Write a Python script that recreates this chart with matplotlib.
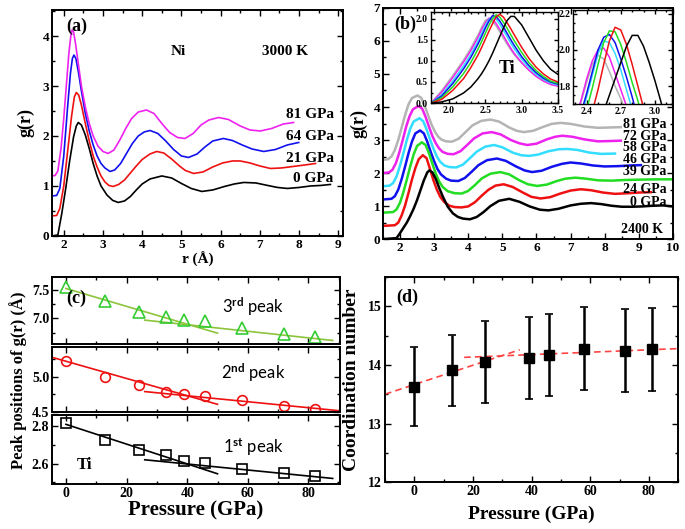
import matplotlib
matplotlib.use('Agg')
import matplotlib.pyplot as plt
from matplotlib.ticker import MultipleLocator

plt.rcParams['font.family'] = ['Liberation Serif', 'DejaVu Serif']
plt.rcParams['font.weight'] = 'bold'
plt.rcParams['axes.labelweight'] = 'bold'
plt.rcParams['mathtext.fontset'] = 'custom'
plt.rcParams['mathtext.rm'] = 'Lato'
plt.rcParams['mathtext.it'] = 'Lato:italic'
plt.rcParams['mathtext.bf'] = 'Lato:bold'

# ---------------- data ----------------
# (a) Ni, 3000 K, g(r) curves (already shifted as drawn)
ni_labels = ['0 GPa', '21 GPa', '64 GPa', '81 GPa']
ni_colors = ['black', '#ee1111', '#1111ee', '#ee22ee']
ni_r_0 = [1.7, 1.85, 1.95, 2.05, 2.15, 2.25, 2.32, 2.37, 2.45, 2.55, 2.65, 2.75, 2.85, 2.95, 3.1, 3.25,
          3.39, 3.55, 3.7, 3.85, 4.0, 4.2, 4.5, 4.75, 5.0, 5.25, 5.52, 5.8, 6.1, 6.35, 6.59, 6.9, 7.2,
          7.45, 7.7, 8.0, 8.3, 8.55, 8.8]
ni_g_0 = [0, 0.02, 0.45, 0.95, 1.5, 1.98, 2.2, 2.27, 2.22, 2.02, 1.75, 1.45, 1.2, 1.0, 0.82, 0.71,
          0.67, 0.7, 0.79, 0.92, 1.04, 1.14, 1.2, 1.16, 1.05, 0.95, 0.89, 0.92, 0.99, 1.04, 1.07, 1.06, 1.01,
          0.97, 0.95, 0.97, 1.0, 1.01, 1.03]
ni_r_21 = [1.7, 1.82, 1.9, 2.0, 2.1, 2.2, 2.27, 2.32, 2.38, 2.45, 2.55, 2.65, 2.75, 2.85, 2.95, 3.05,
           3.15, 3.26, 3.4, 3.55, 3.7, 3.85, 4.0, 4.2, 4.37, 4.55, 4.75, 4.95, 5.1, 5.31, 5.55, 5.8,
           6.05, 6.3, 6.5, 6.75, 7.0, 7.27, 7.55, 7.85, 8.15, 8.42]
ni_g_21 = [0.4, 0.41, 0.55, 1.0, 1.7, 2.4, 2.78, 2.87, 2.82, 2.62, 2.25, 1.9, 1.6, 1.38, 1.2, 1.08,
           1.01, 0.99, 1.03, 1.12, 1.26, 1.4, 1.53, 1.64, 1.69, 1.66, 1.54, 1.4, 1.31, 1.25, 1.28, 1.38,
           1.46, 1.5, 1.5, 1.46, 1.4, 1.35, 1.36, 1.39, 1.42, 1.45]
ni_r_64 = [1.7, 1.82, 1.9, 2.0, 2.1, 2.17, 2.22, 2.26, 2.31, 2.38, 2.45, 2.55, 2.65, 2.75, 2.85, 2.95,
           3.05, 3.18, 3.3, 3.45, 3.6, 3.75, 3.9, 4.05, 4.2, 4.4, 4.6, 4.8, 5.0, 5.18, 5.4, 5.6, 5.8,
           6.07, 6.3, 6.55, 6.8, 7.1, 7.4, 7.7, 7.99]
ni_g_64 = [0.8, 0.81, 0.95, 1.6, 2.6, 3.25, 3.55, 3.62, 3.55, 3.25, 2.9, 2.45, 2.1, 1.82, 1.6, 1.45,
           1.36, 1.29, 1.32, 1.45, 1.65, 1.85, 2.0, 2.08, 2.11, 2.05, 1.9, 1.73, 1.6, 1.57, 1.64, 1.78, 1.9,
           1.95, 1.91, 1.82, 1.74, 1.69, 1.73, 1.82, 1.87]
ni_r_81 = [1.7, 1.78, 1.85, 1.93, 2.0, 2.07, 2.13, 2.18, 2.21, 2.25, 2.3, 2.37, 2.45, 2.55, 2.65, 2.75,
           2.87, 3.0, 3.13, 3.28, 3.43, 3.58, 3.73, 3.9, 4.11, 4.3, 4.5, 4.7, 4.9, 5.09, 5.3, 5.5, 5.7,
           5.95, 6.2, 6.5, 6.75, 7.01, 7.3, 7.6, 7.86]
ni_g_81 = [1.2, 1.21, 1.3, 1.75, 2.35, 3.05, 3.65, 4.0, 4.12, 4.08, 3.85, 3.45, 3.0, 2.58, 2.25, 2.0,
           1.8, 1.69, 1.65, 1.72, 1.92, 2.15, 2.35, 2.48, 2.52, 2.45, 2.25, 2.07, 1.97, 1.95, 2.05, 2.22, 2.32,
           2.37, 2.33, 2.2, 2.12, 2.1, 2.15, 2.24, 2.27]
ni_label_y = [1.15, 1.55, 1.99, 2.42]

# (b) Ti, 2400 K
ti_labels = ['0 GPa', '24 GPa', '39 GPa', '46 GPa', '58 GPa', '72 GPa', '81 GPa']
ti_colors = ['black', '#ee1111', '#22dd22', '#1111ee', '#33ddff', '#ee22ee', '#b4b4b4']
ti_r_0 = [1.5, 1.9, 2.0, 2.1, 2.2, 2.3, 2.4, 2.5, 2.6, 2.7, 2.8, 2.86, 2.95, 3.05, 3.15, 3.25, 3.4, 3.55,
          3.7, 3.85, 4.05, 4.25, 4.45, 4.65, 4.9, 5.2, 5.5, 5.8, 6.1, 6.35, 6.65, 7.0, 7.3, 7.6, 7.9, 8.2,
          8.5, 8.8, 9.1, 9.4, 9.7, 10.0]
ti_g_0 = [0, 0.03, 0.18, 0.34, 0.5, 0.7, 0.92, 1.18, 1.48, 1.78, 2.02, 2.08, 2.02, 1.82, 1.55, 1.3, 0.98, 0.78,
          0.67, 0.62, 0.6, 0.67, 0.82, 1.0, 1.16, 1.22, 1.13, 0.99, 0.89, 0.87, 0.92, 1.02, 1.07, 1.09, 1.06, 1.01,
          0.98, 0.98, 0.99, 1.01, 1.02, 0.99]
ti_r_24 = [1.5, 1.85, 1.95, 2.05, 2.15, 2.25, 2.35, 2.45, 2.55, 2.67, 2.78, 2.88, 2.98, 3.08, 3.18, 3.3,
           3.45, 3.6, 3.8, 4.0, 4.2, 4.4, 4.6, 4.8, 5.04, 5.3, 5.6, 5.85, 6.12, 6.4, 6.7, 7.0, 7.3, 7.6,
           7.95, 8.3, 8.7, 9.0, 9.35]
ti_g_24 = [0.4, 0.42, 0.5, 0.72, 1.02, 1.4, 1.8, 2.15, 2.42, 2.54, 2.45, 2.12, 1.78, 1.5, 1.28, 1.12,
           1.01, 0.97, 0.96, 0.99, 1.12, 1.32, 1.5, 1.62, 1.66, 1.58, 1.41, 1.28, 1.23, 1.27, 1.38, 1.47, 1.51, 1.48,
           1.41, 1.37, 1.39, 1.41, 1.42]
ti_r_39 = [1.5, 1.8, 1.9, 2.0, 2.1, 2.2, 2.3, 2.4, 2.5, 2.64, 2.75, 2.85, 2.95, 3.05, 3.15, 3.25, 3.4,
           3.6, 3.81, 4.0, 4.2, 4.4, 4.65, 4.94, 5.2, 5.5, 5.75, 6.02, 6.3, 6.6, 6.85, 7.14, 7.45, 7.8,
           8.2, 8.6, 9.0, 9.5, 10.0]
ti_g_39 = [0.8, 0.82, 0.9, 1.1, 1.42, 1.8, 2.2, 2.56, 2.82, 2.93, 2.85, 2.6, 2.28, 1.98, 1.74, 1.58, 1.45,
           1.39, 1.38, 1.46, 1.64, 1.84, 1.98, 2.03, 1.96, 1.78, 1.66, 1.61, 1.65, 1.76, 1.83, 1.86, 1.83, 1.78,
           1.77, 1.79, 1.8, 1.81, 1.81]
ti_r_46 = [1.5, 1.75, 1.85, 1.95, 2.05, 2.15, 2.25, 2.35, 2.45, 2.59, 2.7, 2.8, 2.9, 3.0, 3.1, 3.2, 3.35,
           3.5, 3.71, 3.9, 4.1, 4.3, 4.55, 4.84, 5.1, 5.4, 5.65, 5.87, 6.15, 6.45, 6.75, 7.0, 7.3, 7.65,
           8.0, 8.4, 8.75, 9.06]
ti_g_46 = [1.2, 1.22, 1.3, 1.5, 1.82, 2.2, 2.6, 2.95, 3.2, 3.29, 3.2, 2.95, 2.64, 2.36, 2.12, 1.96, 1.83,
           1.77, 1.76, 1.85, 2.04, 2.24, 2.39, 2.44, 2.37, 2.2, 2.08, 2.03, 2.07, 2.19, 2.28, 2.32, 2.29, 2.23,
           2.2, 2.21, 2.23, 2.24]
ti_r_58 = [1.5, 1.7, 1.8, 1.9, 2.0, 2.1, 2.2, 2.3, 2.4, 2.57, 2.68, 2.78, 2.88, 2.98, 3.08, 3.18, 3.3,
           3.45, 3.65, 3.85, 4.05, 4.25, 4.5, 4.76, 5.0, 5.3, 5.55, 5.78, 6.05, 6.35, 6.65, 6.9, 7.2, 7.55,
           7.9, 8.3]
ti_g_58 = [1.6, 1.62, 1.7, 1.9, 2.22, 2.6, 3.0, 3.34, 3.56, 3.66, 3.57, 3.32, 3.02, 2.74, 2.5, 2.34, 2.23,
           2.18, 2.17, 2.26, 2.45, 2.65, 2.8, 2.85, 2.78, 2.62, 2.54, 2.52, 2.56, 2.66, 2.72, 2.73, 2.7, 2.62,
           2.58, 2.59]
ti_r_72 = [1.5, 1.68, 1.78, 1.88, 1.98, 2.08, 2.18, 2.28, 2.38, 2.54, 2.65, 2.75, 2.85, 2.95, 3.05, 3.15,
           3.25, 3.4, 3.57, 3.77, 3.97, 4.17, 4.42, 4.69, 4.95, 5.25, 5.5, 5.73, 6.0, 6.3, 6.55, 6.75, 7.05,
           7.4, 7.8, 8.15, 8.47]
ti_g_72 = [2.0, 2.02, 2.1, 2.3, 2.62, 3.0, 3.4, 3.72, 3.93, 4.03, 3.95, 3.7, 3.4, 3.12, 2.9, 2.74,
           2.64, 2.58, 2.57, 2.66, 2.85, 3.05, 3.2, 3.24, 3.17, 3.0, 2.9, 2.85, 2.89, 3.02, 3.1, 3.13, 3.1,
           3.02, 2.96, 2.97, 2.98]
ti_r_81 = [1.5, 1.65, 1.75, 1.85, 1.95, 2.05, 2.15, 2.25, 2.35, 2.51, 2.62, 2.72, 2.82, 2.92, 3.02, 3.12,
           3.22, 3.35, 3.52, 3.72, 3.92, 4.12, 4.38, 4.65, 4.9, 5.2, 5.42, 5.63, 5.9, 6.2, 6.45, 6.7, 7.0,
           7.4, 7.8, 8.15, 8.47]
ti_g_81 = [2.4, 2.42, 2.5, 2.7, 3.0, 3.38, 3.76, 4.08, 4.27, 4.35, 4.28, 4.05, 3.76, 3.48, 3.26, 3.1,
           3.01, 2.96, 2.95, 3.04, 3.24, 3.44, 3.58, 3.62, 3.56, 3.38, 3.28, 3.24, 3.28, 3.4, 3.49, 3.52, 3.49,
           3.41, 3.37, 3.38, 3.39]
ti_label_y = [1.1, 1.5, 2.06, 2.41, 2.77, 3.12, 3.48]

# (b) inset 1: first peak of Ti
pk_r = [1.75, 1.9, 2.05, 2.2, 2.3, 2.4, 2.45, 2.5, 2.55, 2.6, 2.65, 2.7, 2.75, 2.8, 2.85, 2.9, 3.0,
        3.1, 3.2, 3.3, 3.4, 3.5]
pk_0 = [0, 0.03, 0.1, 0.24, 0.38, 0.58, 0.7, 0.84, 1.0, 1.18, 1.38, 1.58, 1.78, 1.95, 2.05, 2.05, 1.85,
        1.55, 1.25, 1.0, 0.8, 0.68]
pk_24 = [0, 0.09, 0.3, 0.58, 0.84, 1.14, 1.32, 1.51, 1.7, 1.88, 2.04, 2.1, 2.03, 1.9, 1.76, 1.61, 1.32,
         1.06, 0.85, 0.69, 0.57, 0.5]
pk_39 = [0, 0.13, 0.38, 0.7, 0.96, 1.28, 1.46, 1.65, 1.84, 2.0, 2.09, 2.03, 1.91, 1.77, 1.62, 1.47, 1.2,
         0.96, 0.77, 0.63, 0.52, 0.47]
pk_46 = [0, 0.17, 0.46, 0.81, 1.08, 1.4, 1.58, 1.77, 1.94, 2.07, 2.04, 1.94, 1.8, 1.65, 1.5, 1.36, 1.1,
         0.89, 0.72, 0.59, 0.5, 0.45]
pk_58 = [0, 0.2, 0.52, 0.88, 1.15, 1.47, 1.65, 1.83, 1.98, 2.05, 1.98, 1.86, 1.72, 1.57, 1.42, 1.28, 1.04,
         0.84, 0.68, 0.56, 0.48, 0.43]
pk_72 = [0, 0.26, 0.6, 0.97, 1.24, 1.56, 1.74, 1.9, 2.01, 1.98, 1.88, 1.74, 1.59, 1.44, 1.3, 1.17, 0.96,
         0.78, 0.63, 0.52, 0.44, 0.4]
pk_81 = [0, 0.3, 0.65, 1.02, 1.3, 1.62, 1.8, 1.96, 1.99, 1.93, 1.82, 1.68, 1.53, 1.39, 1.26, 1.14, 0.95,
         0.78, 0.64, 0.54, 0.47, 0.43]

# (b) inset 2: top of the first peak
top_r = [2.30, 2.35, 2.40, 2.45, 2.50, 2.55, 2.60, 2.65, 2.70, 2.75, 2.80, 2.85, 2.90, 2.95, 3.00, 3.05, 3.10]
top_0 = [1.2, 1.3, 1.39, 1.48, 1.57, 1.66, 1.75, 1.84, 1.93, 2.02, 2.08, 2.08, 2.02, 1.93, 1.83, 1.72, 1.6]
top_24 = [1.35, 1.45, 1.56, 1.66, 1.78, 1.92, 2.05, 2.125, 2.11, 2.03, 1.92, 1.80, 1.68, 1.56, 1.45, 1.35, 1.25]
top_39 = [1.45, 1.57, 1.67, 1.79, 1.92, 2.04, 2.105, 2.10, 2.03, 1.93, 1.82, 1.72, 1.60, 1.50, 1.40, 1.30, 1.20]
top_46 = [1.55, 1.65, 1.76, 1.88, 2.0, 2.07, 2.085, 2.04, 1.95, 1.85, 1.74, 1.62, 1.50, 1.40, 1.30, 1.20, 1.10]
top_58 = [1.52, 1.63, 1.74, 1.86, 1.98, 2.05, 2.04, 1.98, 1.89, 1.78, 1.67, 1.56, 1.45, 1.35, 1.25, 1.15, 1.05]
top_72 = [1.63, 1.72, 1.84, 1.94, 2.0, 2.01, 1.96, 1.87, 1.78, 1.69, 1.58, 1.48, 1.38, 1.28, 1.18, 1.08, 1.0]
top_81 = [1.62, 1.71, 1.82, 1.92, 1.97, 1.95, 1.88, 1.80, 1.73, 1.65, 1.56, 1.46, 1.36, 1.26, 1.16, 1.06, 0.98]

# (c) peak positions vs pressure
press_c = [0, 13, 24, 33, 39, 46, 58, 72, 82]
peak3 = [7.55, 7.31, 7.11, 7.02, 6.98, 6.95, 6.83, 6.72, 6.67]
peak2 = [5.22, 5.0, 4.88, 4.78, 4.75, 4.73, 4.67, 4.59, 4.54]
peak1 = [2.815, 2.725, 2.67, 2.643, 2.612, 2.603, 2.568, 2.55, 2.531]
fit3_x = [[0, 50], [26, 88]]
fit3_y = [[7.53, 6.74], [6.97, 6.61]]
fit2_x = [[-5, 50], [26, 90]]
fit2_y = [[5.28, 4.61], [4.79, 4.52]]
fit1_x = [[0, 50], [26, 88]]
fit1_y = [[2.81, 2.545], [2.62, 2.52]]

# (d) coordination number
press_d = [0, 13, 24, 39, 46, 58, 72, 81]
coord = [13.63, 13.91, 14.05, 14.12, 14.17, 14.28, 14.24, 14.27]
coord_err = [0.68, 0.61, 0.70, 0.70, 0.70, 0.71, 0.71, 0.71]
fitd_x = [[-10, 36], [17, 90]]
fitd_y = [[13.5, 14.26], [14.13, 14.28]]


def style(ax, fs=9.5, lw=1.4):
    for s in ax.spines.values():
        s.set_linewidth(lw)
    ax.tick_params(which='both', direction='in', top=True, right=True, width=1.0, labelsize=fs, pad=2)
    ax.tick_params(which='major', length=4)
    ax.tick_params(which='minor', length=2)
    for lab in ax.get_xticklabels() + ax.get_yticklabels():
        lab.set_fontweight('bold')


fig = plt.figure(figsize=(6.85, 5.29), dpi=100)

# ---------------- (a) ----------------
ax = fig.add_axes([0.0759, 0.554, 0.4248, 0.427])
ni_r = [ni_r_0, ni_r_21, ni_r_64, ni_r_81]
ni_g = [ni_g_0, ni_g_21, ni_g_64, ni_g_81]
for r, g, c in zip(ni_r, ni_g, ni_colors):
    ax.plot(r, g, color=c, lw=1.2)
for lab, y in zip(ni_labels, ni_label_y):
    ax.text(8.88, y, lab, ha='right', va='center', fontsize=11)
ax.set_xlim(1.7, 9.12)
ax.set_ylim(0, 4.52)
ax.xaxis.set_major_locator(MultipleLocator(1))
ax.xaxis.set_minor_locator(MultipleLocator(0.5))
ax.yaxis.set_major_locator(MultipleLocator(1))
ax.yaxis.set_minor_locator(MultipleLocator(0.5))
style(ax)
ax.text(0.05, 0.93, '(a)', transform=ax.transAxes, fontsize=13, ha='left', va='center')
ax.text(4.91, 3.69, 'Ni', fontsize=11, ha='center', va='center')
ax.text(7.65, 3.69, '3000 K', fontsize=11, ha='center', va='center')
ax.set_ylabel('g(r)', fontsize=13, labelpad=6)
ax.set_xlabel('r (Å)', fontsize=11, labelpad=1)

# ---------------- (b) ----------------
ax = fig.add_axes([0.559, 0.548, 0.4235, 0.437])
ti_r = [ti_r_0, ti_r_24, ti_r_39, ti_r_46, ti_r_58, ti_r_72, ti_r_81]
ti_g = [ti_g_0, ti_g_24, ti_g_39, ti_g_46, ti_g_58, ti_g_72, ti_g_81]
for r, g, c in list(zip(ti_r, ti_g, ti_colors))[::-1]:
    ax.plot(r, g, color=c, lw=1.8)
for lab, y in zip(ti_labels, ti_label_y):
    ax.text(9.8, y, lab, ha='right', va='center', fontsize=10)
ax.set_xlim(1.5, 10)
ax.set_ylim(0, 7)
ax.xaxis.set_major_locator(MultipleLocator(1))
ax.xaxis.set_minor_locator(MultipleLocator(0.5))
ax.yaxis.set_major_locator(MultipleLocator(1))
ax.yaxis.set_minor_locator(MultipleLocator(0.5))
style(ax)
ax.text(0.04, 0.93, '(b)', transform=ax.transAxes, fontsize=13, ha='left', va='center')
ax.text(9.1, 0.3, '2400 K', fontsize=10, ha='center', va='center')
ax.set_ylabel('g(r)', fontsize=13, labelpad=4)

# inset 1
ax = fig.add_axes([0.629, 0.805, 0.1855, 0.172])
pk = [pk_0, pk_24, pk_39, pk_46, pk_58, pk_72, pk_81]
for g, c in list(zip(pk, ti_colors))[::-1]:
    ax.plot(pk_r, g, color=c, lw=1.1)
ax.set_xlim(1.75, 3.5)
ax.set_ylim(0, 2.15)
ax.set_xticks([2.0, 2.5, 3.0, 3.5])
ax.xaxis.set_minor_locator(MultipleLocator(0.1))
ax.set_yticks([0.0, 0.5, 1.0, 1.5, 2.0])
ax.yaxis.set_minor_locator(MultipleLocator(0.25))
style(ax, fs=7, lw=1.0)
ax.tick_params(which='major', length=3)
ax.tick_params(which='minor', length=1.5)
ax.text(0.6, 0.38, 'Ti', transform=ax.transAxes, fontsize=13, ha='center', va='center')

# inset 2
ax = fig.add_axes([0.8365, 0.803, 0.1445, 0.178])
tops = [top_0, top_24, top_39, top_46, top_58, top_72, top_81]
for g, c in list(zip(tops, ti_colors))[::-1]:
    ax.plot(top_r, g, color=c, lw=1.1)
ax.set_xlim(2.28, 3.15)
ax.set_ylim(1.70, 2.22)
ax.set_xticks([2.4, 2.7, 3.0])
ax.xaxis.set_minor_locator(MultipleLocator(0.1))
ax.set_yticks([1.8, 2.0, 2.2])
ax.yaxis.set_minor_locator(MultipleLocator(0.05))
style(ax, fs=7, lw=1.0)
ax.tick_params(which='major', length=3)
ax.tick_params(which='minor', length=1.5)

# ---------------- (c) ----------------
c_boxes = [[0.0759, 0.350, 0.4204, 0.126],
           [0.0759, 0.221, 0.4204, 0.123],
           [0.0759, 0.085, 0.4204, 0.1305]]
c_vals = [peak3, peak2, peak1]
c_fx = [fit3_x, fit2_x, fit1_x]
c_fy = [fit3_y, fit2_y, fit1_y]
c_mark = ['^', 'o', 's']
c_mcol = ['#33cc33', '#ee1111', 'black']
c_lcol = ['#8cc43c', '#ee1111', 'black']
c_ylim = [(6.55, 7.73), (4.5, 5.42), (2.49, 2.86)]
c_major = [0.5, 0.5, 0.2]
c_minor = [0.25, 0.25, 0.1]
c_text = ['3$^{\\rm rd}$ peak', '2$^{\\rm nd}$ peak', '1$^{\\rm st}$ peak']
c_text_y = [0.55, 0.6, 0.54]
for i in range(3):
    ax = fig.add_axes(c_boxes[i])
    for fx, fy in zip(c_fx[i], c_fy[i]):
        ax.plot(fx, fy, color=c_lcol[i], lw=1.2)
    ax.plot(press_c, c_vals[i], ls='none', marker=c_mark[i], mfc='none', mec=c_mcol[i],
            mew=1.2, ms=8 if i == 0 else 7)
    ax.set_xlim(-4.6, 90.4)
    ax.set_ylim(*c_ylim[i])
    ax.xaxis.set_major_locator(MultipleLocator(20))
    ax.xaxis.set_minor_locator(MultipleLocator(10))
    ax.yaxis.set_major_locator(MultipleLocator(c_major[i]))
    ax.yaxis.set_minor_locator(MultipleLocator(c_minor[i]))
    style(ax, fs=10)
    if i < 2:
        ax.tick_params(labelbottom=False)
    ax.text(0.70, c_text_y[i], c_text[i], transform=ax.transAxes, fontsize=12,
            fontweight='normal', family='Lato', ha='center', va='center')
    if i == 0:
        ax.text(0.05, 0.69, '(c)', transform=ax.transAxes, fontsize=13, ha='left', va='center')
    if i == 2:
        ax.text(0.087, 0.27, 'Ti', transform=ax.transAxes, fontsize=12, ha='left', va='center')

fig.text(0.026, 0.282, 'Peak positions of g(r) (Å)', rotation=90, ha='center', va='center', fontsize=12)
fig.text(0.286, 0.035, 'Pressure (GPa)', ha='center', va='center', fontsize=15)

# ---------------- (d) ----------------
ax = fig.add_axes([0.562, 0.0888, 0.428, 0.3872])
for fx, fy in zip(fitd_x, fitd_y):
    ax.plot(fx, fy, color='#ff4444', lw=1.2, ls=(0, (4, 2.5)))
ax.errorbar(press_d, coord, yerr=coord_err, fmt='s', color='black', ms=7, elinewidth=1.8,
            capsize=3, capthick=1.2)
ax.set_xlim(-10, 90)
ax.set_ylim(12, 15.5)
ax.xaxis.set_major_locator(MultipleLocator(20))
ax.xaxis.set_minor_locator(MultipleLocator(10))
ax.yaxis.set_major_locator(MultipleLocator(1))
ax.yaxis.set_minor_locator(MultipleLocator(0.5))
style(ax, fs=10)
ax.text(0.04, 0.9, '(d)', transform=ax.transAxes, fontsize=13, ha='left', va='center')
ax.set_ylabel('Coordination number', fontsize=14, labelpad=6)
ax.set_xlabel('Pressure (GPa)', fontsize=14, labelpad=6)

fig.savefig('out.png', dpi=100)
